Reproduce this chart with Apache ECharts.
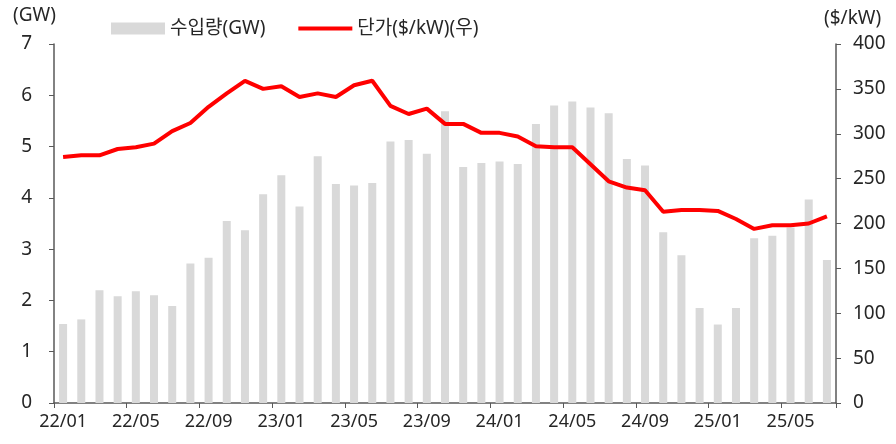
<!DOCTYPE html>
<html>
<head>
<meta charset="utf-8">
<script src="https://cdn.jsdelivr.net/npm/echarts@6/dist/echarts.min.js"></script>
<style>
  html, body { margin: 0; padding: 0; background: #fff; }
  #chart { width: 896px; height: 444px; }
</style>
</head>
<body>
<div id="chart"></div>
<script>
// 월별 수입량(GW)과 단가($/kW)

var months = [
    '22/01','22/02','22/03','22/04','22/05','22/06','22/07','22/08','22/09','22/10','22/11','22/12',
    '23/01','23/02','23/03','23/04','23/05','23/06','23/07','23/08','23/09','23/10','23/11','23/12',
    '24/01','24/02','24/03','24/04','24/05','24/06','24/07','24/08','24/09','24/10','24/11','24/12',
    '25/01','25/02','25/03','25/04','25/05','25/06','25/07'
];

// 수입량(GW) - 막대
var importGW = [
    1.54, 1.63, 2.20, 2.08, 2.18, 2.10, 1.89, 2.72, 2.83, 3.55, 3.37, 4.07,
    4.44, 3.83, 4.81, 4.27, 4.24, 4.29, 5.10, 5.13, 4.86, 5.69, 4.60, 4.68,
    4.71, 4.66, 5.44, 5.80, 5.88, 5.76, 5.65, 4.76, 4.63, 3.33, 2.88, 1.85,
    1.53, 1.85, 3.21, 3.26, 3.42, 3.97, 2.79
];

// 단가($/kW) - 선(우축)
var priceUSD = [
    274, 276, 276, 283, 285, 289, 303, 312, 330, 345, 359, 350,
    353, 341, 345, 341, 354, 359, 331, 322, 328, 311, 311, 301,
    301, 297, 286, 285, 285, 266, 247, 240, 237, 213, 215, 215,
    214, 205, 194, 198, 198, 200, 208
];

var leftTicks = [0, 7, 1];     // min, max, interval
var rightTicks = [0, 400, 50];

var txtColor = '#262626';
var lineColor = '#595959';
var fontName = '"Noto Sans", "Noto Sans CJK KR", sans-serif';

var chart = echarts.init(document.getElementById('chart'));
var option = {
    animation: false,
    textStyle: { fontFamily: fontName },
    grid: {
        left: 54,
        right: 60,
        top: 44,
        bottom: 41
    },
    legend: {
        left: 111,
        top: 19,
        padding: 0,
        itemWidth: 54,
        itemHeight: 12,
        itemGap: 31,
        textStyle: { fontSize: 19, color: txtColor, fontFamily: fontName },
        data: [
            { name: '수입량(GW)', icon: 'rect' },
            { name: '단가($/kW)(우)', itemStyle: { opacity: 0 }, lineStyle: { width: 4 } }
        ]
    },
    graphic: [
        {
            type: 'text', left: 13, top: 6,
            style: { text: '(GW)', fontSize: 19, fill: txtColor, fontFamily: fontName }
        },
        {
            type: 'text', left: 824, top: 9,
            style: { text: '($/kW)', fontSize: 19, fill: txtColor, fontFamily: fontName }
        }
    ],
    xAxis: {
        type: 'category',
        data: months,
        boundaryGap: true,
        axisLine: { lineStyle: { color: lineColor, width: 1.5 } },
        axisTick: { show: true, interval: 3, length: 5, lineStyle: { color: lineColor } },
        axisLabel: { interval: 3, fontSize: 18, color: txtColor, margin: 10 }
    },
    yAxis: [
        {
            type: 'value',
            min: leftTicks[0],
            max: leftTicks[1],
            interval: leftTicks[2],
            splitLine: { show: false },
            axisLine: { show: true, lineStyle: { color: lineColor, width: 1.5 } },
            axisTick: { show: true, length: 5, lineStyle: { color: lineColor } },
            axisLabel: { fontSize: 19, color: txtColor, margin: 22 }
        },
        {
            type: 'value',
            position: 'right',
            min: rightTicks[0],
            max: rightTicks[1],
            interval: rightTicks[2],
            splitLine: { show: false },
            axisLine: { show: true, lineStyle: { color: lineColor, width: 1.5 } },
            axisTick: { show: true, length: 5, lineStyle: { color: lineColor } },
            axisLabel: { fontSize: 19, color: txtColor, margin: 17 }
        }
    ],
    series: [
        {
            name: '수입량(GW)',
            type: 'bar',
            yAxisIndex: 0,
            barWidth: 8,
            itemStyle: { color: '#d9d9d9' },
            data: importGW
        },
        {
            name: '단가($/kW)(우)',
            type: 'line',
            yAxisIndex: 1,
            symbol: 'none',
            z: 5,
            lineStyle: { color: '#ff0000', width: 4 },
            itemStyle: { color: '#ff0000' },
            data: priceUSD
        }
    ]
};
chart.setOption(option);
</script>
</body>
</html>
